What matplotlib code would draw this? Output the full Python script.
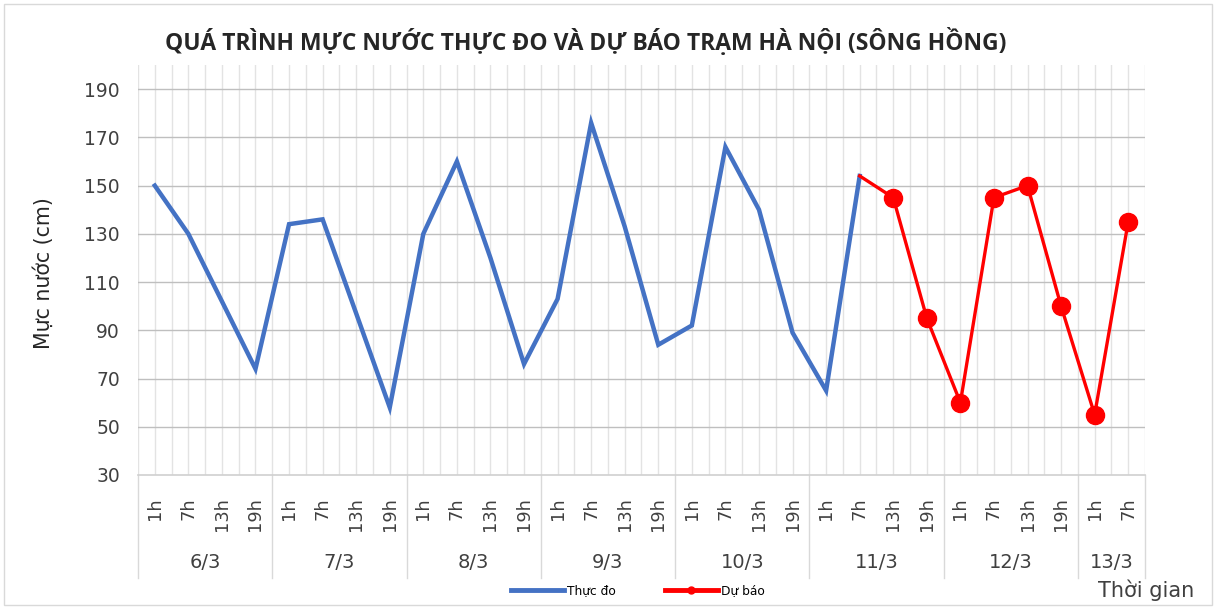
import matplotlib
matplotlib.use("Agg")
import matplotlib.pyplot as plt
from matplotlib.lines import Line2D
from matplotlib.patches import Rectangle
import matplotlib.transforms as mtransforms

# ---- data ----
days = ["6/3", "7/3", "8/3", "9/3", "10/3", "11/3", "12/3", "13/3"]
day_counts = [4, 4, 4, 4, 4, 4, 4, 2]
hour_labels = ["1h", "7h", "13h", "19h", "1h", "7h", "13h", "19h",
               "1h", "7h", "13h", "19h", "1h", "7h", "13h", "19h",
               "1h", "7h", "13h", "19h", "1h", "7h", "13h", "19h",
               "1h", "7h", "13h", "19h", "1h", "7h"]
observed = [150, 130, 102, 74, 134, 136, 97, 58, 130, 160, 120, 76,
            103, 176, 133, 84, 92, 166, 140, 89, 65, 154]
forecast = [154, 145, 95, 60, 145, 150, 100, 55, 135]
forecast_start = 21

title = "QUÁ TRÌNH MỰC NƯỚC THỰC ĐO VÀ DỰ BÁO TRẠM HÀ NỘI (SÔNG HỒNG)"
ylabel = "Mực nước (cm)"
xlabel = "Thời gian"
series_names = ["Thực đo", "Dự báo"]

TFONT = "Open Sans"
FONT = "DejaVu Sans"
W, H = 1217, 608
fig = plt.figure(figsize=(W / 100, H / 100), dpi=100)
fig.patch.set_facecolor("white")

L, R, T, B = 138, 1145, 65, 475
ax = fig.add_axes([L / W, 1 - B / H, (R - L) / W, (B - T) / H])

n = len(hour_labels)
x_obs = list(range(len(observed)))
x_fc = list(range(forecast_start, forecast_start + len(forecast)))

ax.plot(x_obs, observed, color="#4472C4", lw=3.2, solid_joinstyle="miter", zorder=3,
        label=series_names[0])
ax.plot(x_fc, forecast, color="#FF0000", lw=2.4, marker="o", ms=13,
        markevery=list(range(1, len(forecast))), zorder=4, label=series_names[1])

ax.set_xlim(-0.5, n - 0.5)
ax.set_ylim(30, 200)
ax.set_yticks(list(range(30, 191, 20)))
ax.set_yticklabels([str(v) for v in range(30, 191, 20)], fontsize=13.5,
                   family=FONT, color="#404040")
ax.tick_params(axis="y", length=0, pad=13)

# horizontal gridlines
for v in range(50, 191, 20):
    ax.axhline(v, color="#bfbfbf", lw=1.0, zorder=1)
# vertical gridlines every half category
k = -0.5
while k <= n - 0.5 + 1e-9:
    ax.axvline(k, color="#e3e3e3", lw=1.0, zorder=0.5)
    k += 0.5

for s in ["top", "right", "left"]:
    ax.spines[s].set_visible(False)
ax.spines["bottom"].set_color("#d0d0d0")
ax.spines["bottom"].set_linewidth(1.2)

ax.set_xticks(list(range(n)))
ax.set_xticklabels(hour_labels, rotation=90, fontsize=12.8, family=FONT,
                   color="#404040", va="top")
ax.tick_params(axis="x", length=0, pad=16)

# day group labels and separators
trans = mtransforms.blended_transform_factory(ax.transData, ax.transAxes)
start = -0.5
sep_bottom = (B - 578) / (B - T)
ax.add_line(Line2D([start, start], [0, sep_bottom], transform=trans,
                   color="#d9d9d9", lw=1.0, clip_on=False))
for d, c in zip(days, day_counts):
    end = start + c
    ax.text((start + end) / 2, (B - 562) / (B - T), d, transform=trans,
            ha="center", va="center", fontsize=14, family=FONT, color="#404040")
    ax.add_line(Line2D([end, end], [0, sep_bottom], transform=trans,
                       color="#d9d9d9", lw=1.0, clip_on=False))
    start = end

# title, axis labels
fig.text(586 / W, 1 - 42 / H, title, ha="center", va="center", fontsize=16.5,
         fontweight="bold", family=TFONT, color="#262626")
fig.text(44 / W, 1 - 273 / H, ylabel, ha="center", va="center", rotation=90,
         fontsize=14.8, family=FONT, color="#262626")
fig.text(1146 / W, 1 - 590 / H, xlabel, ha="center", va="center",
         fontsize=15, family=FONT, color="#404040")

# legend
handles = [Line2D([], [], color="#4472C4", lw=3.5),
           Line2D([], [], color="#FF0000", lw=3.5, marker="o", ms=5)]
fig.legend(handles, series_names, loc="center", bbox_to_anchor=(638 / W, 1 - 591 / H),
           ncol=2, frameon=False, prop={"family": FONT, "size": 8.8},
           handlelength=4.3, handletextpad=0.3, columnspacing=4.0)

# outer border
fig.add_artist(Rectangle((4 / W, 3 / H), (W - 9) / W, (H - 7) / H,
                         transform=fig.transFigure, fill=False,
                         edgecolor="#d9d9d9", lw=1.0))

fig.savefig("out.png", dpi=100)
